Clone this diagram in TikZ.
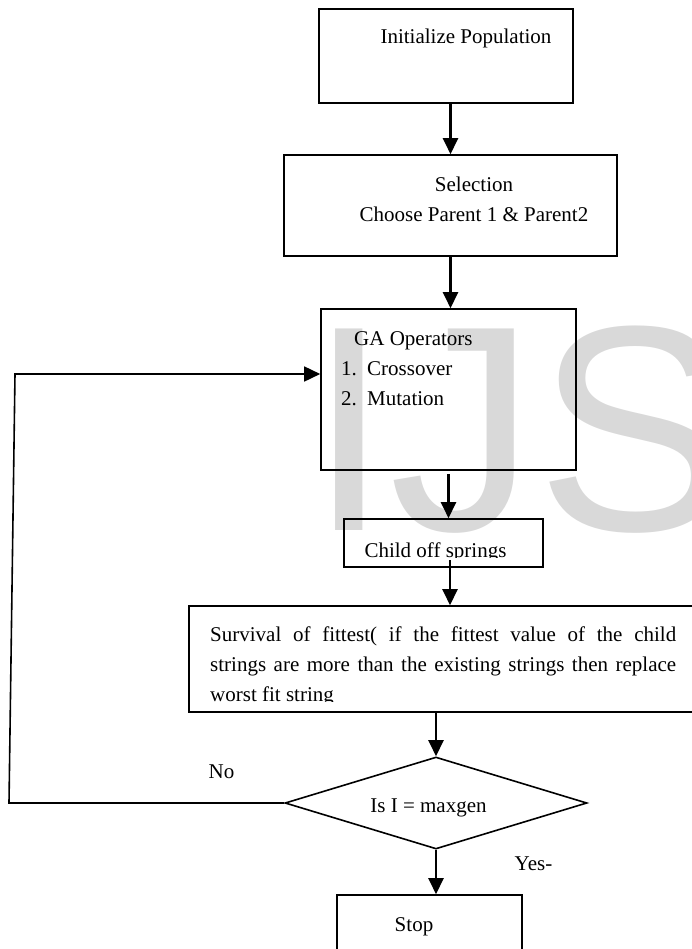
\documentclass[tikz,border=0pt]{standalone}
\usepackage{fontspec}
\setmainfont{Liberation Serif}
\newfontfamily\markfont{Liberation Sans}
\usetikzlibrary{calc,shapes.geometric,arrows.meta}

\definecolor{markgray}{RGB}{217,217,217}

\tikzset{
  box/.style={draw,line width=1.6pt,inner sep=0pt},
  txt/.style={inner sep=0pt,font=\fontsize{21}{30}\selectfont},
  flow/.style={line width=2.4pt,-{Triangle[length=16pt,width=15pt]}},
  backflow/.style={line width=1.6pt,-{Triangle[length=16pt,width=15pt]}},
}

\begin{document}
\begin{tikzpicture}[x=1pt,y=-1pt]
    \useasboundingbox (0,0) rectangle (691,949);

    \node (mark) [anchor=base west,inner sep=0pt,text=markgray,font=\markfont\fontsize{293}{293}\selectfont] at (308,530) {IJS};

    \node (init) [box,minimum width=254pt,minimum height=94pt] at (446,56) {};
    \node (sel) [box,minimum width=333pt,minimum height=101pt] at (450.5,205.5) {};
    \node (ga) [box,minimum width=255pt,minimum height=161pt] at (448.5,389.5) {};
    \node (child) [box,minimum width=199pt,minimum height=48pt] at (443.5,543) {};
    \node (surv) [box,minimum width=516pt,minimum height=106pt] at (447,659) {};
    \node (dia) [box,diamond,minimum width=302pt,minimum height=92pt] at (436,803) {};
    \node (stop) [box,minimum width=185pt,minimum height=80pt] at (429.5,935) {};

    \node (initT) [txt,anchor=base] at (466,44) {Initialize Population};
    \node (selT) [txt,align=center] at (474,199) {Selection\\Choose Parent 1 \& Parent2};
    \node (gaT) [txt,anchor=north west,align=left] at (341,331)
        {\hspace*{13pt}GA Operators\\\makebox[26pt][l]{1.}Crossover\\\makebox[26pt][l]{2.}Mutation};
    \begin{scope}
      \clip (344,519) rectangle (543,557);
      \node (childT) [txt,anchor=base] at (435.5,557) {Child off springs};
    \end{scope}
    \begin{scope}
      \clip (189,606) rectangle (691,701);
      \node (survT) [txt,anchor=north west,text width=466pt,align=justify] at (210,627)
          {Survival of fittest( if the fittest value of the child\linebreak
           strings are more than the existing strings then replace\linebreak
           worst fit string};
    \end{scope}
    \node (diaT) [txt,anchor=base] at (428.5,812) {Is I = maxgen};
    \node (stopT) [txt,anchor=base] at (414,931) {Stop};
    \node (no) [txt,anchor=base] at (221.5,778) {No};
    \node (yes) [txt,anchor=base] at (533.5,870) {Yes-};

    \coordinate (c1) at (450,560);
    \coordinate (lb) at (9,803);
    \coordinate (lt) at (15,374);

    \draw[flow] (init.south -| sel.north) -- (sel.north);
    \draw[flow] (sel.south) -- (sel.south |- ga.north);
    \draw[flow] ($(ga.south)+(0,3)$) -- (ga.south |- child.north);
    \draw[flow] (c1) -- (c1 |- surv.north);
    \draw[flow] (surv.south -| dia.north) -- (dia.north);
    \draw[flow] (dia.south) -- (dia.south |- stop.north);
    \draw[backflow] (dia.west) -- (lb) -- (lt) -- (ga.west |- lt);
  \end{tikzpicture}
\end{document}
